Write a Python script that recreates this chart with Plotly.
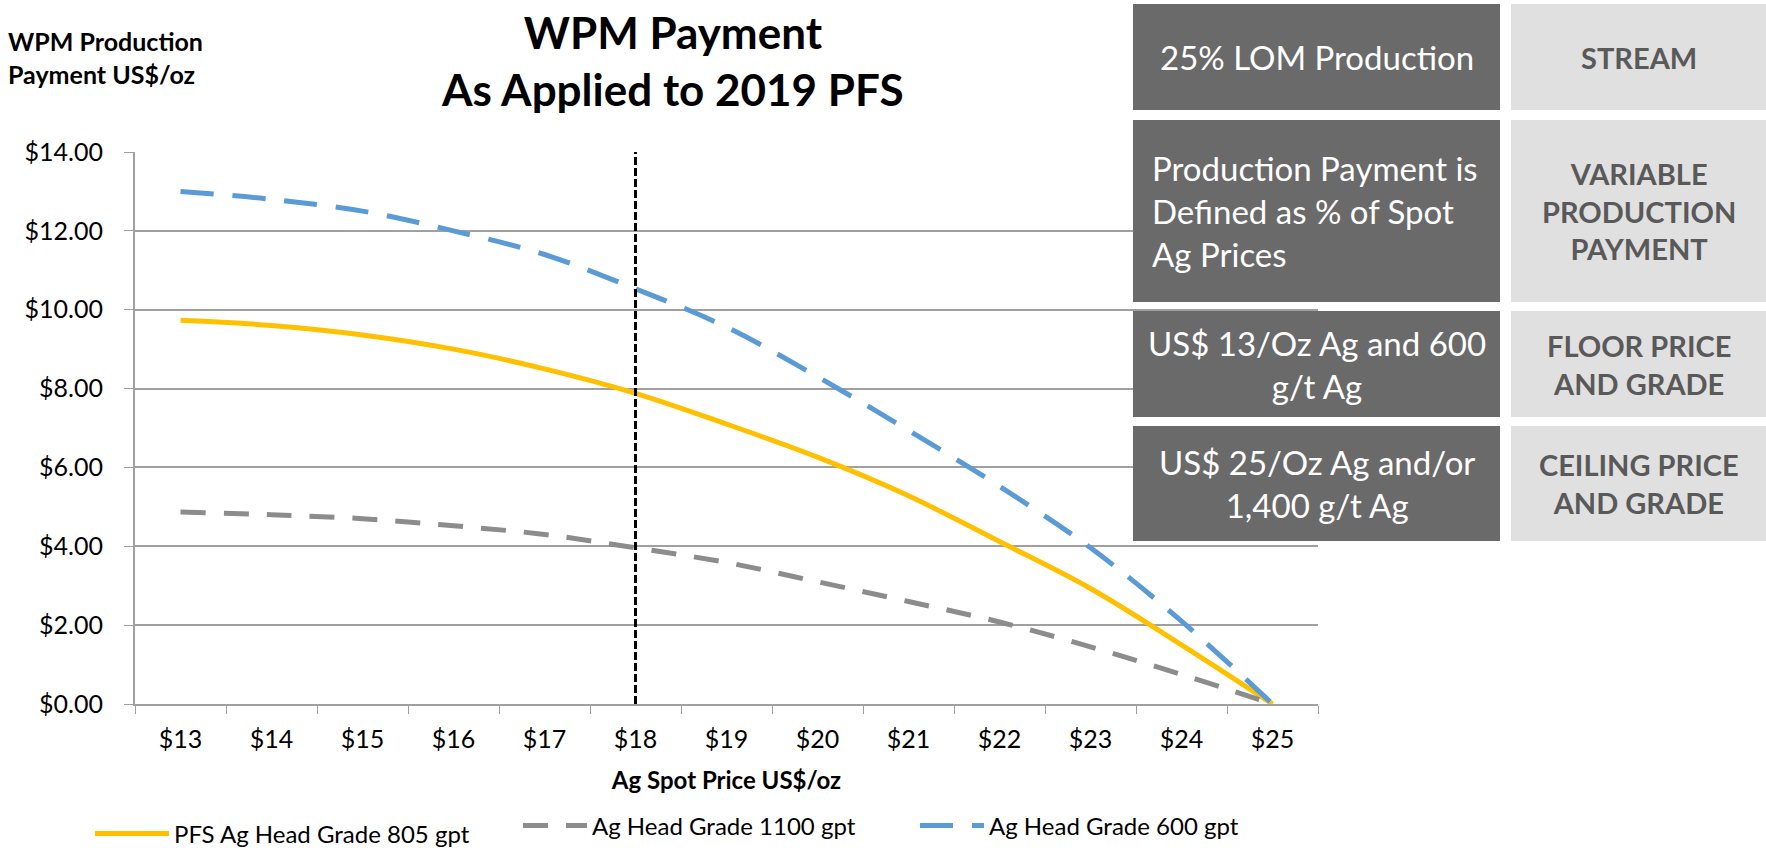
import plotly.graph_objects as go

# spot price categories (US$/oz)
prices = ["$13", "$14", "$15", "$16", "$17", "$18", "$19",
          "$20", "$21", "$22", "$23", "$24", "$25"]

# production payment US$/oz for each head grade
pfs_805 = [9.73, 9.6, 9.36, 9.0, 8.5, 7.88, 7.1, 6.26, 5.28, 4.12, 2.93, 1.5, 0.0]
grade_1100 = [4.87, 4.8, 4.7, 4.52, 4.3, 3.96, 3.59, 3.1, 2.6, 2.08, 1.45, 0.75, 0.0]
grade_600 = [13.0, 12.8, 12.5, 12.0, 11.4, 10.53, 9.56, 8.3, 6.94, 5.52, 3.96, 2.1, 0.0]

series_names = ["PFS Ag Head Grade 805 gpt", "Ag Head Grade 1100 gpt", "Ag Head Grade 600 gpt"]

current_price = "$18"
y_ticks = [0, 2, 4, 6, 8, 10, 12, 14]
y_tick_labels = ["$0.00", "$2.00", "$4.00", "$6.00", "$8.00", "$10.00", "$12.00", "$14.00"]

# side panel texts
box_left = ["25% LOM Production",
            "Production Payment is<br>Defined as % of Spot<br>Ag Prices",
            "US$ 13/Oz Ag and 600<br>g/t Ag",
            "US$ 25/Oz Ag and/or<br>1,400 g/t Ag"]
box_right = ["STREAM",
             "VARIABLE<br>PRODUCTION<br>PAYMENT",
             "FLOOR PRICE<br>AND GRADE",
             "CEILING PRICE<br>AND GRADE"]

W, H = 1766, 848
L, R, T, B = 135, 1318, 152, 704  # plot area in pixels
FONT = "Lato"


def px(x):
    return (x - L) / (R - L)


def py(y):
    return (B - y) / (B - T)


fig = go.Figure()

fig.add_trace(go.Scatter(
    x=prices, y=pfs_805, name=series_names[0], mode="lines", legend="legend",
    line=dict(color="#FFC000", width=5, shape="spline")))
fig.add_trace(go.Scatter(
    x=prices, y=grade_1100, name=series_names[1], mode="lines", legend="legend2",
    line=dict(color="#8C8C8C", width=5, shape="spline", dash="25px,18px")))
fig.add_trace(go.Scatter(
    x=prices, y=grade_600, name=series_names[2], mode="lines", legend="legend3",
    line=dict(color="#5B9BD5", width=5, shape="spline", dash="33px,19px")))

fig.add_trace(go.Scatter(
    x=[current_price, current_price], y=[y_ticks[0], y_ticks[-1]],
    mode="lines", line=dict(color="black", width=3, dash="8px,3px"),
    showlegend=False, hoverinfo="skip"))

# side panel boxes
rows = [(4, 110), (120, 302), (311, 417), (426, 541)]
shapes = []
annotations = []
for i, (y0, y1) in enumerate(rows):
    shapes.append(dict(type="rect", xref="paper", yref="paper",
                       x0=px(1133), x1=px(1500), y0=py(y1), y1=py(y0),
                       fillcolor="#6A6A6A", line=dict(width=0), layer="above"))
    shapes.append(dict(type="rect", xref="paper", yref="paper",
                       x0=px(1511), x1=px(1766), y0=py(y1), y1=py(y0),
                       fillcolor="#E0E0E0", line=dict(width=0), layer="above"))
    if i == 1:
        annotations.append(dict(xref="paper", yref="paper", x=px(1150), y=py((y0 + y1) / 2),
                                xanchor="left", yanchor="middle", align="left",
                                text=box_left[i], showarrow=False,
                                font=dict(family=FONT, size=33, color="white")))
    else:
        annotations.append(dict(xref="paper", yref="paper", x=px((1133 + 1500) / 2),
                                y=py((y0 + y1) / 2), xanchor="center", yanchor="middle",
                                text=box_left[i], showarrow=False,
                                font=dict(family=FONT, size=33, color="white")))
    annotations.append(dict(xref="paper", yref="paper", x=px((1511 + 1766) / 2),
                            y=py((y0 + y1) / 2), xanchor="center", yanchor="middle",
                            text="<b>" + box_right[i] + "</b>", showarrow=False,
                            font=dict(family=FONT, size=29, color="#595959")))

# title and y-axis caption
annotations.append(dict(xref="paper", yref="paper", x=px(672), y=py(4),
                        xanchor="center", yanchor="top",
                        text="<b>WPM Payment<br>As Applied to 2019 PFS</b>", showarrow=False,
                        font=dict(family=FONT, size=44, color="black")))
annotations.append(dict(xref="paper", yref="paper", x=px(6), y=py(24),
                        xanchor="left", yanchor="top", align="left",
                        text="<b>WPM Production<br>Payment US$/oz</b>", showarrow=False,
                        font=dict(family=FONT, size=25, color="black")))

legend_style = dict(orientation="h", xanchor="left", yanchor="middle",
                    bgcolor="rgba(0,0,0,0)", font=dict(family=FONT, size=24, color="black"))

fig.update_layout(
    width=W, height=H,
    margin=dict(l=L, r=W - R, t=T, b=H - B, autoexpand=False),
    paper_bgcolor="white", plot_bgcolor="white",
    font=dict(family=FONT, size=25, color="black"),
    shapes=shapes, annotations=annotations,
    legend=dict(x=px(90), y=py(834), itemwidth=74, **legend_style),
    legend2=dict(x=px(518), y=py(826), itemwidth=64, **legend_style),
    legend3=dict(x=px(915), y=py(826), itemwidth=64, **legend_style),
    xaxis=dict(type="category", categoryorder="array", categoryarray=prices,
               range=[-0.5, len(prices) - 0.5],
               tickson="boundaries", ticks="outside", ticklen=8,
               tickcolor="#A0A0A0", showline=True, linecolor="#A0A0A0", linewidth=2,
               showgrid=False, tickfont=dict(size=25), ticklabelstandoff=12,
               automargin=False,
               title=dict(text="<b>Ag Spot Price US$/oz</b>", font=dict(size=24), standoff=20)),
    yaxis=dict(range=[0, 14], tickvals=y_ticks, ticktext=y_tick_labels,
               ticks="outside", ticklen=9, tickcolor="#A0A0A0",
               showline=True, linecolor="#A0A0A0", linewidth=2,
               showgrid=True, gridcolor="#A0A0A0", gridwidth=1.5, zeroline=False,
               tickfont=dict(size=25), ticklabelstandoff=16, automargin=False),
)

fig.write_html("out.html", config={"displayModeBar": False},
               post_script="document.body.style.margin = '0';")
